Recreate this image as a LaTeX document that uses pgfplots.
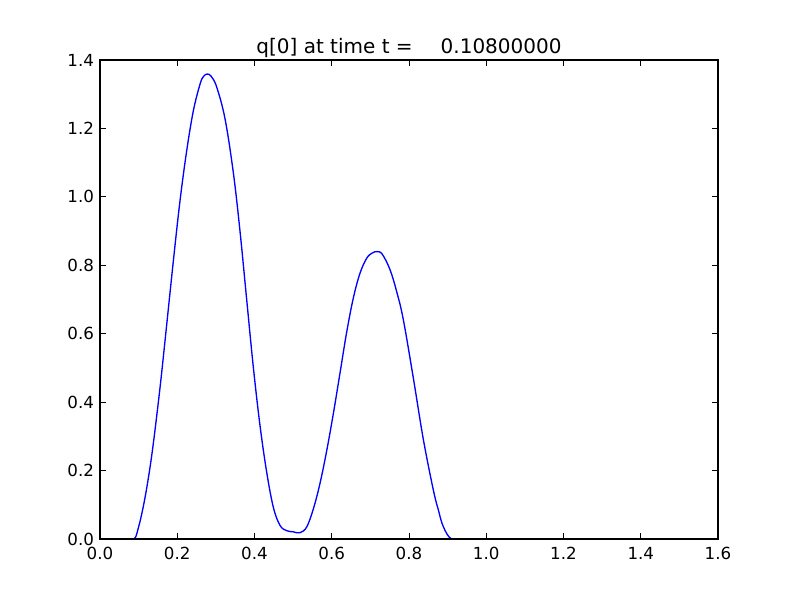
\documentclass[border=0pt]{standalone}
\usepackage{pgfplots}
\pgfplotsset{compat=1.18}
\usepackage{fontspec}
\setmainfont{DejaVu Sans}
\begin{document}
\begin{tikzpicture}[x=0.75pt,y=0.75pt]
\path[use as bounding box] (-100,-61) rectangle (700,539);
\begin{axis}[
  at={(0,0)}, anchor=south west,
  scale only axis, width=463.5pt, height=359.25pt,
  xmin=0, xmax=1.6, ymin=0, ymax=1.4,
  xtick={0,0.2,...,1.6}, ytick={0,0.2,...,1.4},
  tick align=inside, major tick length=4.2pt,
  xtick pos=both, ytick pos=both,
  axis line style={line width=0.9pt},
  tick style={line width=0.6pt, black},
  axis on top,
  tick label style={font=\fontsize{12.5}{14}\selectfont},
  xticklabel style={yshift=-2.5pt},
  yticklabel style={xshift=-1pt},
  /pgf/number format/.cd, fixed, fixed zerofill, precision=1, assume math mode=true,
  /pgfplots/.cd,
  title={q[0] at time t =\hspace{21pt}0.10800000},
  title style={font=\fontsize{15}{17}\selectfont, yshift=-8pt},
]
\addplot[color={rgb,255:red,0;green,0;blue,255}, line width=1pt, smooth, tension=0.6] coordinates {
(0.000,0) (0.060,0) (0.088,0) (0.0992,0.0322) (0.1122,0.0955) (0.1251,0.1773)
(0.1381,0.2796) (0.1553,0.4414) (0.1683,0.5788) (0.1899,0.8126) (0.2071,0.9880)
(0.2244,1.1342) (0.2416,1.2511) (0.2589,1.3290) (0.268,1.352) (0.278,1.359)
(0.288,1.352) (0.3020,1.3212) (0.3236,1.2287) (0.3452,1.0708) (0.3625,0.8994)
(0.3797,0.7006) (0.3970,0.5019) (0.4142,0.3323) (0.4315,0.1958) (0.4488,0.0926)
(0.4660,0.0399) (0.4833,0.0243) (0.500,0.021) (0.5178,0.0185)
(0.5351,0.0351) (0.5523,0.0877) (0.5696,0.1627) (0.5868,0.2572) (0.6041,0.3663)
(0.6214,0.4852) (0.6386,0.6041) (0.6559,0.7045) (0.6731,0.7766) (0.6904,0.8204)
(0.705,0.836) (0.718,0.840) (0.731,0.832) (0.7508,0.7873) (0.7681,0.7230)
(0.7853,0.6411) (0.8112,0.4706) (0.8371,0.2913) (0.8630,0.1432) (0.8760,0.0850)
(0.8889,0.0360) (0.9105,0.000) (0.950,0) (1.600,0)
};
\end{axis}
\end{tikzpicture}
\end{document}
